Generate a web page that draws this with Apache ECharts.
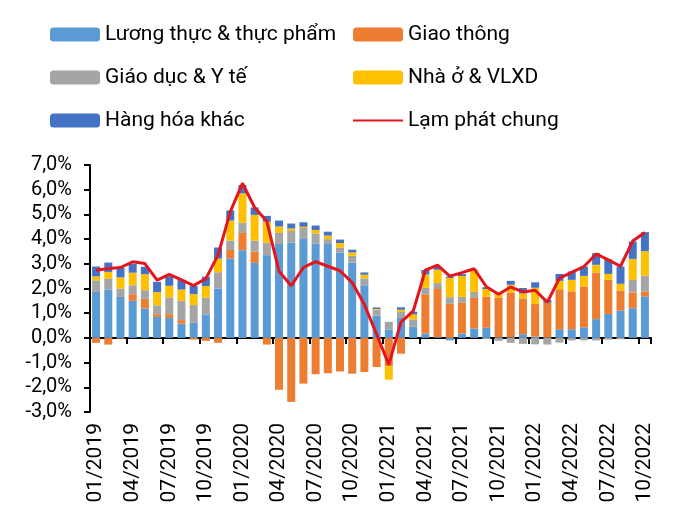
<!DOCTYPE html>
<html>
<head>
<meta charset="utf-8">
<script src="https://cdn.jsdelivr.net/npm/echarts@6/dist/echarts.min.js"></script>
<style>html,body{margin:0;padding:0;background:#fff}#c{width:684px;height:526px}</style>
</head>
<body>
<div id="c"></div>
<script>
const months = ['01/2019','02/2019','03/2019','04/2019','05/2019','06/2019','07/2019','08/2019','09/2019','10/2019','11/2019','12/2019',
'01/2020','02/2020','03/2020','04/2020','05/2020','06/2020','07/2020','08/2020','09/2020','10/2020','11/2020','12/2020',
'01/2021','02/2021','03/2021','04/2021','05/2021','06/2021','07/2021','08/2021','09/2021','10/2021','11/2021','12/2021',
'01/2022','02/2022','03/2022','04/2022','05/2022','06/2022','07/2022','08/2022','09/2022','10/2022'];

const food = [1.86,1.96,1.66,1.5,1.19,0.85,0.81,0.58,0.61,0.95,2.0,3.22,
3.55,3.04,3.35,3.8,3.86,4.0,3.82,3.8,3.46,3.05,2.13,0.9,
0.34,0.81,0.45,0.18,0.03,-0.1,0.18,0.38,0.41,0.03,0.02,0.15,
0.05,0.02,0.35,0.35,0.43,0.76,0.97,1.11,1.2,1.68];

const transport = [-0.2,-0.27,-0.03,0.27,0.39,0.11,0.15,0.14,-0.07,-0.12,-0.2,0.34,
0.7,0.45,-0.27,-2.1,-2.59,-1.85,-1.47,-1.43,-1.36,-1.45,-1.38,-1.18,
-1.15,-0.64,0.0,1.58,1.95,1.38,1.24,1.24,1.26,1.6,1.82,1.45,
1.32,1.4,1.62,1.53,1.65,1.89,1.38,0.81,0.64,0.2];

const eduHealth = [0.47,0.43,0.34,0.36,0.35,0.36,0.68,0.78,0.72,0.68,0.66,0.38,
0.41,0.45,0.5,0.45,0.47,0.45,0.41,0.2,0.2,0.27,0.28,0.24,
0.31,0.24,0.3,0.27,0.24,0.27,0.24,0.24,-0.05,-0.12,-0.2,-0.24,
-0.26,-0.27,-0.19,-0.1,-0.1,-0.1,-0.07,-0.05,0.51,0.64];

const housing = [0.16,0.28,0.45,0.51,0.65,0.53,0.47,0.46,0.45,0.47,0.55,0.81,
1.19,1.04,0.85,0.26,0.1,0.05,0.14,0.14,0.18,0.14,0.15,0.03,
-0.54,0.09,0.2,0.54,0.54,0.78,0.84,0.88,0.31,0.2,0.31,0.2,
0.66,0.0,0.34,0.47,0.43,0.31,0.24,0.27,0.85,0.99];

const otherGoods = [0.4,0.38,0.39,0.36,0.3,0.42,0.39,0.38,0.32,0.38,0.45,0.41,
0.34,0.3,0.24,0.24,0.2,0.18,0.18,0.16,0.14,0.11,0.09,0.06,
0.0,0.1,0.11,0.18,0.11,0.05,0.08,0.02,0.07,0.0,0.16,0.22,
0.22,0.12,0.28,0.34,0.38,0.47,0.59,0.7,0.7,0.77];

const headline = [2.74,2.81,2.85,3.08,3.01,2.34,2.57,2.35,2.12,2.4,3.35,5.1,
6.26,5.28,4.72,2.7,2.11,2.85,3.09,2.9,2.72,2.24,1.35,0.15,
-1.08,0.64,1.08,2.74,2.95,2.5,2.64,2.8,2.07,1.77,2.06,1.86,
1.93,1.45,2.42,2.65,2.89,3.4,3.16,2.9,3.92,4.27];

const names = ['Lương thực & thực phẩm','Giao thông','Giáo dục & Y tế','Nhà ở & VLXD','Hàng hóa khác','Lạm phát chung'];
const colors = ['#5B9BD5','#ED7D31','#A5A5A5','#FFC000','#4472C4','#E4151B'];
const FONT = 'Roboto';

const chart = echarts.init(document.getElementById('c'), null, {renderer:'canvas'});
const barSeries = [food, transport, eduHealth, housing, otherGoods].map((d,i)=>({
  name: names[i], type:'bar', stack:'total', data:d, xAxisIndex:0,
  barWidth: 8, itemStyle:{color:colors[i]}, animation:false
}));
const legendText = {fontFamily:FONT, fontSize:21, color:'#000', lineHeight:20};
chart.setOption({
  animation:false,
  textStyle:{fontFamily:FONT},
  legend:[
    {orient:'vertical', left:50, top:24, padding:0, itemGap:22, itemWidth:50, itemHeight:14,
     data:[names[0],names[2],names[4]], textStyle:legendText},
    {orient:'vertical', left:352, top:24, padding:0, itemGap:22, itemWidth:50, itemHeight:14,
     data:[names[1],names[3],{name:names[5], itemStyle:{opacity:0}}], textStyle:legendText}
  ],
  grid:{left:90, right:33, top:165, bottom:114, containLabel:false},
  xAxis:[
    {type:'category', data:months, boundaryGap:true,
     axisLine:{onZero:true, lineStyle:{color:'#000', width:2}},
     axisTick:{show:true, interval:2, length:6, lineStyle:{color:'#000', width:2}},
     axisLabel:{show:false}, splitLine:{show:false}},
    {type:'category', data:months, position:'bottom', boundaryGap:true,
     axisLine:{show:false, onZero:false}, axisTick:{show:false},
     axisLabel:{show:true, interval:2, rotate:90, margin:11, fontFamily:FONT, fontSize:21, color:'#000'},
     splitLine:{show:false}}
  ],
  yAxis:{type:'value', min:-3, max:7, interval:1,
    axisLine:{show:true, lineStyle:{color:'#000', width:2}},
    axisTick:{show:true, length:6, lineStyle:{color:'#000', width:2}},
    splitLine:{show:false},
    axisLabel:{fontFamily:FONT, fontSize:20, color:'#000', margin:18,
      formatter:v=>v.toFixed(1).replace('.',',')+'%'}},
  series:[...barSeries,
    {name:names[5], type:'line', data:headline, xAxisIndex:0, symbol:'none', z:10,
     lineStyle:{color:colors[5], width:3}, itemStyle:{color:colors[5]}}]
});
</script>
</body>
</html>
